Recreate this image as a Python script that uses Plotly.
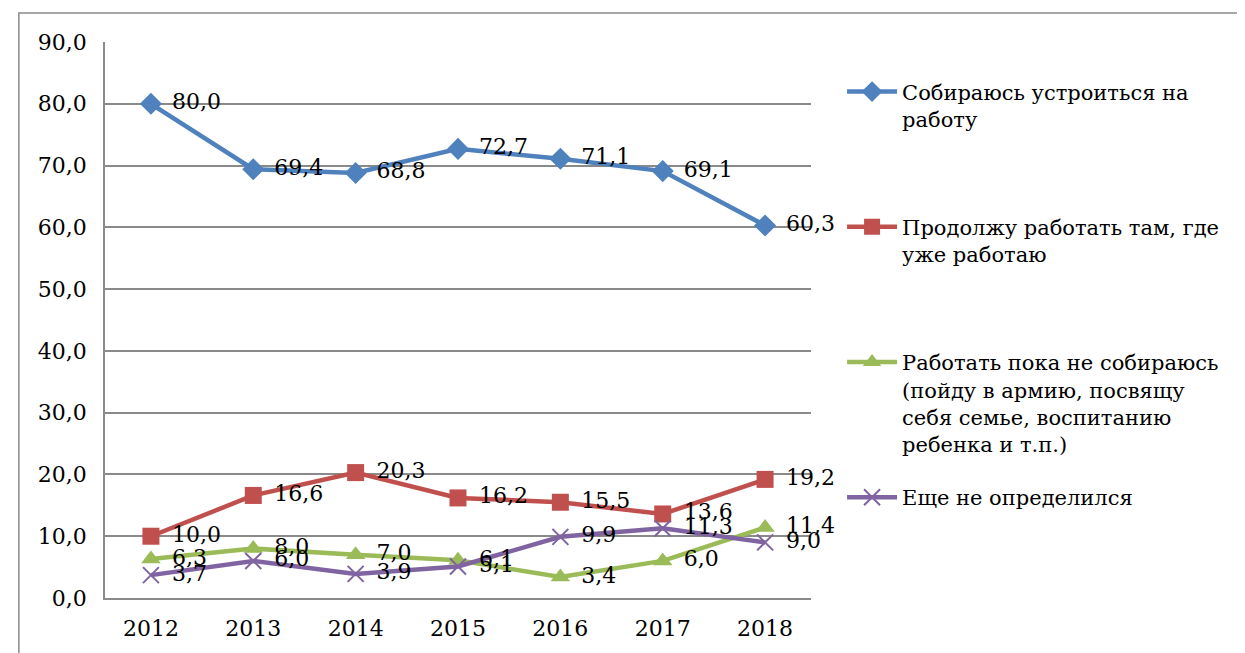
import plotly.graph_objects as go

years = ["2012", "2013", "2014", "2015", "2016", "2017", "2018"]
s_work = [80.0, 69.4, 68.8, 72.7, 71.1, 69.1, 60.3]
s_continue = [10.0, 16.6, 20.3, 16.2, 15.5, 13.6, 19.2]
s_notyet = [6.3, 8.0, 7.0, 6.1, 3.4, 6.0, 11.4]
s_undecided = [3.7, 6.0, 3.9, 5.1, 9.9, 11.3, 9.0]

names = [
    "Собираюсь устроиться на<br>работу<br> <br> ",
    "Продолжу работать там, где<br>уже работаю<br> <br> ",
    "Работать пока не собираюсь<br>(пойду в армию, посвящу<br>себя семье, воспитанию<br>ребенка и т.п.)",
    "Еще не определился",
]
series = [s_work, s_continue, s_notyet, s_undecided]
colors = ["#4F81BD", "#C0504D", "#9BBB59", "#8064A2"]
symbols = ["diamond", "square", "triangle-up", "x-thin"]
sizes = [17, 17, 17, 16]

FONT = "DejaVu Serif, serif"

fig = go.Figure()
for i, (name, vals, c, sym, sz) in enumerate(zip(names, series, colors, symbols, sizes)):
    marker = dict(symbol=sym, size=sz, color=c)
    if sym == "x-thin":
        marker["line"] = dict(color=c, width=2)
    fig.add_trace(go.Scatter(
        x=years, y=vals, name=name, mode="lines+markers", legendgroup=f"g{i}",
        line=dict(color=c, width=4.5), marker=marker, cliponaxis=False,
    ))

for vals in series:
    fig.add_trace(go.Scatter(
        x=years, y=vals, mode="text", showlegend=False,
        text=["   " + f"{v:.1f}".replace(".", ",") for v in vals],
        textposition="middle right", cliponaxis=False,
        textfont=dict(family=FONT, size=22, color="black"),
        hoverinfo="skip",
    ))

fig.update_layout(
    width=1245, height=645, autosize=False,
    margin=dict(l=97, r=442, t=34, b=55, autoexpand=False),
    paper_bgcolor="white", plot_bgcolor="white",
    font=dict(family=FONT, size=22, color="black"),
    separators=",.",
    legend=dict(
        x=1.044, xanchor="left", y=0.947, yanchor="top",
        font=dict(family=FONT, size=21, color="black"),
        valign="top", bgcolor="rgba(0,0,0,0)", itemwidth=50,
        tracegroupgap=23,
    ),
    shapes=[dict(type="rect", xref="paper", yref="paper",
                 x0=-0.122, x1=1.8, y0=-0.3, y1=1.052,
                 line=dict(color="#8a8a8a", width=1.5), layer="below")],
)
fig.update_xaxes(
    type="category", showgrid=False, showline=True, linecolor="#8a8a8a", linewidth=1.5,
    ticks="", tickfont=dict(family=FONT, size=22), ticklabelstandoff=10, automargin=False,
)
fig.update_yaxes(
    range=[0, 90], dtick=10, tickformat=".1f", showgrid=True, gridcolor="#8a8a8a",
    gridwidth=1.5, showline=True, linecolor="#8a8a8a", linewidth=1.5, zeroline=False,
    ticks="", tickfont=dict(family=FONT, size=22), ticklabelstandoff=12, automargin=False,
)

fig.write_html("out.html")
